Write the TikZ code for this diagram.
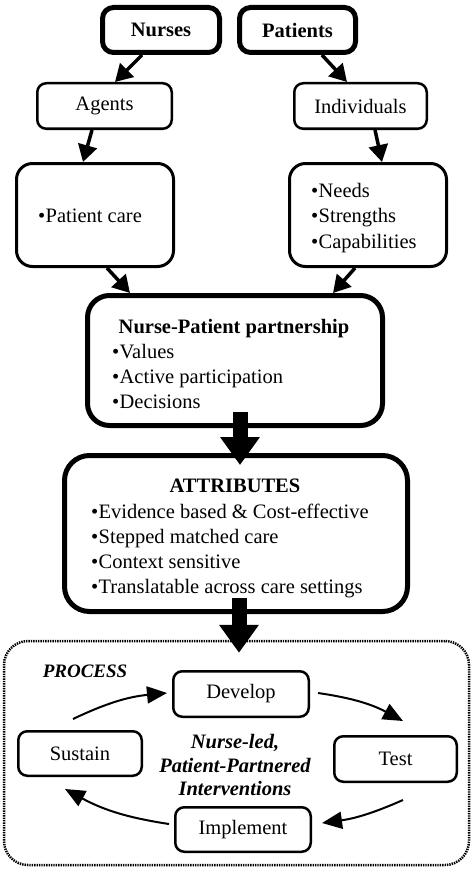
\documentclass[tikz,border=0pt]{standalone}
\usepackage{fontspec}
\setmainfont{Liberation Serif}
\usetikzlibrary{arrows.meta}
\newcommand\myfs{\fontsize{20.5}{25}\selectfont}
\newcommand\bul{\textbullet\hspace{0.5pt}}
\begin{document}
\begin{tikzpicture}[x=1pt,y=-1pt,font=\myfs,
  box/.style={draw, line width=2.5pt, rounded corners=9pt, inner sep=0pt, align=center},
  bigbox/.style={draw, line width=3pt, rounded corners=16pt, inner sep=0pt},
  thickbox/.style={draw, line width=5pt, rounded corners=11pt, inner sep=0pt, align=center, font={\myfs\bfseries}},
  heavybox/.style={draw, line width=5pt, rounded corners=22pt, inner sep=0pt},
  procbox/.style={draw, line width=2.5pt, dash pattern=on 1.4pt off 1pt, rounded corners=24pt, inner sep=0pt},
  txt/.style={inner sep=0pt, outer sep=0pt},
  arr/.style={line width=3.5pt, -{Triangle[length=17pt,width=19pt]}},
  bigarr/.style={line width=15pt, -{Triangle[length=28pt,width=38pt]}},
  carr/.style={line width=2pt, -{Triangle[length=20pt,width=17pt]}},
]
\useasboundingbox (0,0) rectangle (474,872);

% top boxes
\node[thickbox, minimum width=117pt, minimum height=45pt] (nurses) at (161,30) {Nurses};
\node[thickbox, minimum width=116pt, minimum height=45pt] (patients) at (297.5,30) {Patients};
\node[box, minimum width=134.5pt, minimum height=45.5pt] (agents) at (104.5,106) {Agents};
\node[box, minimum width=132.5pt, minimum height=45.5pt] (indiv) at (360.5,106) {Individuals};

% bullet boxes
\node[bigbox, minimum width=157pt, minimum height=103pt] (pc) at (95,215) {};
\node[txt, anchor=base west] (pc1) at (38,222) {\bul Patient care};
\node[bigbox, minimum width=157pt, minimum height=103pt] (needs) at (368,215) {};
\node[txt, anchor=base west] (nd1) at (311,197) {\bul Needs};
\node[txt, anchor=base west] (nd2) at (311,222) {\bul Strengths};
\node[txt, anchor=base west] (nd3) at (311,248) {\bul Capabilities};

% partnership
\node[heavybox, minimum width=295pt, minimum height=130pt] (part) at (235,360.5) {};
\node[txt, anchor=base, font={\myfs\bfseries}] (pt0) at (234,333) {Nurse-Patient partnership};
\node[txt, anchor=base west] (pt1) at (112,358) {\bul Values};
\node[txt, anchor=base west] (pt2) at (112,383) {\bul Active participation};
\node[txt, anchor=base west] (pt3) at (112,408) {\bul Decisions};

% attributes
\node[heavybox, minimum width=343pt, minimum height=156pt, rounded corners=25pt] (attr) at (236,533.5) {};
\node[txt, anchor=base, font={\myfs\bfseries}] (at0) at (235,492) {ATTRIBUTES};
\node[txt, anchor=base west] (at1) at (91,518) {\bul Evidence based \& Cost-effective};
\node[txt, anchor=base west] (at2) at (91,543) {\bul Stepped matched care};
\node[txt, anchor=base west] (at3) at (91,568) {\bul Context sensitive};
\node[txt, anchor=base west] (at4) at (91,593) {\bul Translatable across care settings};

% process
\node[procbox, minimum width=465pt, minimum height=224pt] (proc) at (236.5,753) {};
\node[txt, anchor=base, font={\fontsize{19}{23}\selectfont\bfseries\itshape}] (ptitle) at (85,677) {PROCESS};
\node[box, minimum width=135.5pt, minimum height=45.5pt] (dev) at (241,694) {Develop};
\node[box, minimum width=123.5pt, minimum height=44.5pt] (sus) at (80,753.5) {Sustain};
\node[box, minimum width=122.5pt, minimum height=45.5pt] (test) at (395.5,759) {Test};
\node[box, minimum width=135.5pt, minimum height=44.5pt] (impl) at (243,829.5) {Implement};
\node[txt, anchor=base, font={\myfs\bfseries\itshape}] (c1) at (235,748) {Nurse-led,};
\node[txt, anchor=base, font={\myfs\bfseries\itshape}] (c2) at (235,772) {Patient-Partnered};
\node[txt, anchor=base, font={\myfs\bfseries\itshape}] (c3) at (235,795) {Interventions};

% arrows
\draw[arr] ([xshift=-19pt]nurses.south) -- ([xshift=10.5pt]agents.north);
\draw[arr] ([xshift=24.5pt]patients.south) -- ([xshift=-13.5pt]indiv.north);
\draw[arr] ([xshift=-12.5pt]agents.south) -- ([xshift=-12pt]pc.north);
\draw[arr] ([xshift=14.5pt]indiv.south) -- ([xshift=14pt]needs.north);
\draw[arr] ([xshift=12pt]pc.south) -- ([xshift=-105pt]part.north);
\draw[arr] ([xshift=-13pt]needs.south) -- ([xshift=98pt]part.north);

\draw[bigarr] ([xshift=5pt,yshift=16pt]part.south) -- ([xshift=4pt,yshift=-12pt]attr.north);
\draw[bigarr] ([xshift=3pt,yshift=16pt]attr.south) -- ([xshift=2.5pt,yshift=-13pt]proc.north);

\draw[carr] ([xshift=-7pt,yshift=11pt]sus.north) to[bend left=10] ([xshift=-5pt,yshift=1pt]dev.west);
\draw[carr] ([xshift=8pt,yshift=1pt]dev.east) to[bend left=10] ([xshift=7.5pt,yshift=14pt]test.north);
\draw[carr] ([xshift=7.5pt,yshift=-17pt]test.south) to[bend left=8] ([xshift=10pt,yshift=6.5pt]impl.east);
\draw[carr] ([xshift=-5pt,yshift=5.5pt]impl.west) to[bend left=10] ([xshift=-15pt,yshift=-12pt]sus.south);
\end{tikzpicture}
\end{document}
